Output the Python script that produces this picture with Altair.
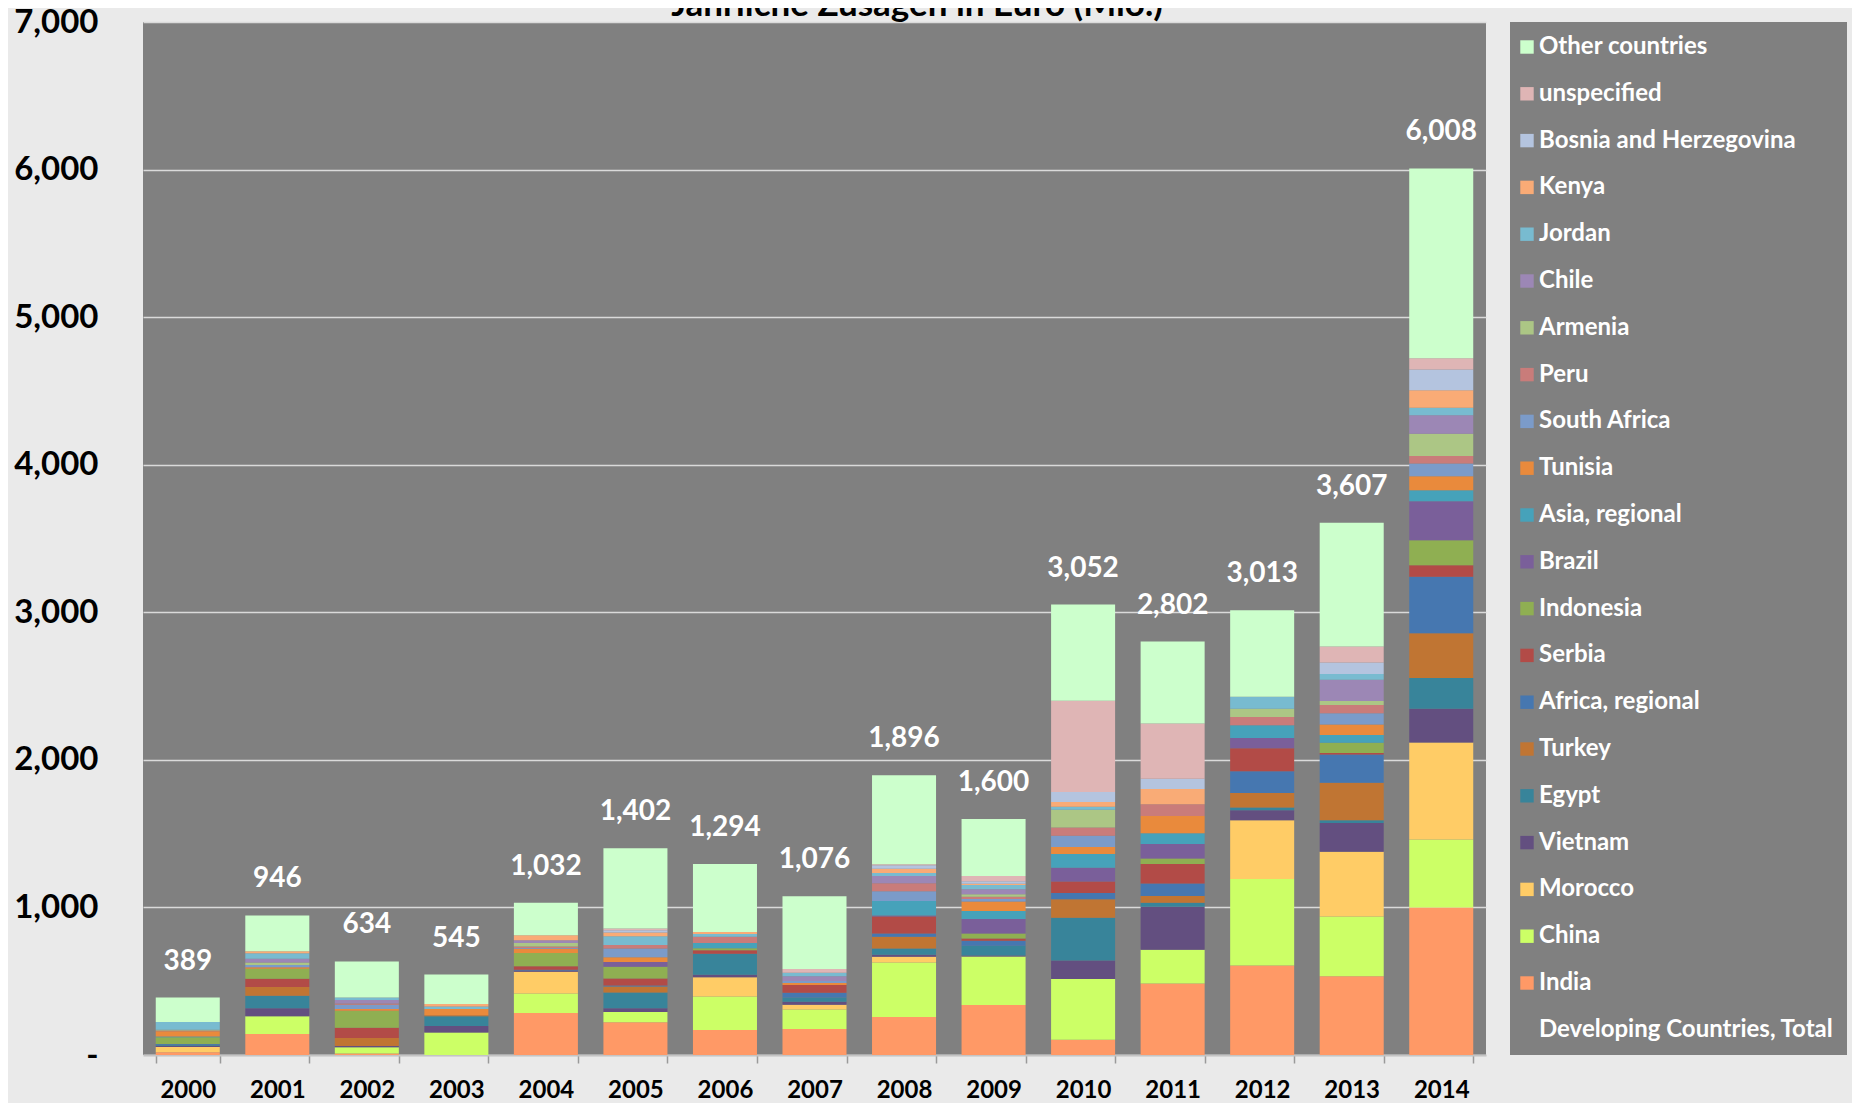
import altair as alt
import pandas as pd

years = [str(y) for y in range(2000, 2015)]
totals = [389, 946, 634, 545, 1032, 1402, 1294, 1076, 1896, 1600, 3052, 2802, 3013, 3607, 6008]

india = [18, 143, 11, 0, 285, 222, 170, 176, 258, 339, 104, 485, 606, 534, 1000]
china = [0, 120, 41, 152, 132, 70, 226, 133, 369, 328, 411, 228, 587, 404, 461]
morocco = [36, 0, 0, 0, 147, 0, 131, 32, 38, 0, 0, 0, 397, 439, 657]
vietnam = [9, 54, 9, 45, 9, 25, 16, 20, 14, 7, 126, 291, 69, 195, 228]
egypt = [7, 84, 0, 66, 0, 106, 143, 29, 43, 66, 289, 27, 19, 19, 209]
turkey = [0, 59, 54, 7, 0, 41, 0, 0, 79, 0, 126, 47, 97, 254, 303]
africa_regional = [5, 0, 0, 0, 5, 7, 0, 32, 23, 34, 41, 84, 147, 192, 382]
serbia = [0, 57, 70, 0, 23, 48, 23, 52, 115, 16, 79, 133, 157, 10, 79]
indonesia = [45, 68, 115, 0, 90, 79, 14, 0, 0, 34, 0, 36, 0, 69, 169]
brazil = [0, 0, 0, 0, 0, 32, 0, 0, 7, 97, 93, 99, 69, 0, 264]
asia_regional = [5, 0, 0, 0, 0, 0, 36, 0, 97, 54, 93, 72, 86, 52, 75]
tunisia = [36, 9, 11, 41, 29, 32, 0, 14, 0, 66, 47, 117, 0, 71, 94]
south_africa = [0, 16, 29, 0, 5, 59, 0, 14, 66, 16, 77, 0, 0, 76, 87]
peru = [5, 0, 9, 0, 11, 25, 43, 0, 54, 16, 56, 81, 57, 57, 51]
armenia = [5, 16, 0, 0, 23, 0, 0, 0, 0, 16, 120, 0, 55, 26, 150]
chile = [0, 27, 23, 0, 18, 0, 0, 32, 50, 34, 0, 0, 0, 145, 126]
jordan = [52, 36, 18, 18, 0, 59, 18, 23, 20, 29, 20, 0, 81, 38, 51]
kenya = [0, 14, 0, 16, 35, 25, 14, 0, 29, 9, 32, 102, 0, 0, 118]
bosnia = [0, 0, 0, 0, 0, 16, 0, 0, 23, 16, 68, 70, 0, 78, 142]
unspecified = [0, 0, 0, 0, 0, 11, 0, 25, 7, 36, 619, 375, 0, 109, 75]
other = [166, 243, 244, 200, 220, 544, 460, 494, 604, 387, 651, 555, 586, 839, 1287]

NB = "\u00a0"
# bottom-to-top stacking order
series = [
    (NB + "India", india, "#FF9966"),
    (NB + "China", china, "#CCFF66"),
    (NB + "Morocco", morocco, "#FFCC66"),
    ("Vietnam", vietnam, "#634F80"),
    (NB + "Egypt", egypt, "#38849A"),
    ("Turkey", turkey, "#C07533"),
    ("Africa, regional", africa_regional, "#4677B0"),
    ("Serbia", serbia, "#B24B47"),
    ("Indonesia", indonesia, "#8FAF52"),
    ("Brazil", brazil, "#7A5F9A"),
    ("Asia, regional", asia_regional, "#46A2BA"),
    ("Tunisia", tunisia, "#E98A3C"),
    ("South Africa", south_africa, "#7B9BC9"),
    ("Peru", peru, "#C97C7A"),
    ("Armenia", armenia, "#ACC685"),
    ("Chile", chile, "#9C87B5"),
    ("Jordan", jordan, "#78BBD0"),
    ("Kenya", kenya, "#F9AB76"),
    ("Bosnia and Herzegovina", bosnia, "#B4C4DF"),
    ("unspecified", unspecified, "#DFB5B5"),
    ("Other countries", other, "#CCFFCC"),
]

rows = []
for idx, (name, vals, _) in enumerate(series):
    for y, v in zip(years, vals):
        if v > 0:
            rows.append({"year": y, "country": name, "value": v, "ord": idx})
df = pd.DataFrame(rows)

legend_domain = [s[0] for s in reversed(series)] + ["Developing Countries, Total"]
legend_range = [s[2] for s in reversed(series)] + ["transparent"]

FONT = "Lato"

x_enc = alt.X(
    "year:O",
    scale=alt.Scale(paddingInner=0.285, paddingOuter=0.1425),
    axis=alt.Axis(
        title=None, labelAngle=0, labelFont=FONT, labelFontSize=24,
        labelFontWeight="bold", labelColor="black", labelPadding=15,
        tickBand="extent", tickSize=8, tickColor="#9A9A9A", tickWidth=1.5,
        domainColor="#C4C4C4", domainWidth=2, grid=False,
    ),
)
y_scale = alt.Scale(domain=[0, 7000], nice=False)

bars = alt.Chart(df).mark_bar().encode(
    x=x_enc,
    y=alt.Y(
        "sum(value):Q", stack="zero", scale=y_scale,
        axis=alt.Axis(
            title=None, values=list(range(0, 7001, 1000)),
            labelExpr="datum.value == 0 ? '-' : format(datum.value, ',')",
            labelFont=FONT, labelFontSize=33, labelFontWeight="bold",
            labelColor="black", labelPadding=45, ticks=False, domain=False,
            grid=True, gridColor="#DADADA", gridWidth=1.5,
        ),
    ),
    color=alt.Color(
        "country:N",
        scale=alt.Scale(domain=legend_domain, range=legend_range),
        legend=alt.Legend(
            title=None, orient="right", offset=24, fillColor="#808080",
            padding=13, symbolType="square", symbolSize=180,
            symbolStrokeWidth=0, symbolOffset=-8, labelFont=FONT,
            labelFontSize=24, labelFontWeight="bold", labelColor="white",
            rowPadding=22.8, labelOffset=0, labelLimit=420,
        ),
    ),
    order=alt.Order("ord:Q", sort="ascending"),
)

tot_df = pd.DataFrame({"year": years, "total": totals})
labels = alt.Chart(tot_df).mark_text(
    font=FONT, fontSize=28, fontWeight="bold", color="white",
    baseline="middle", dy=-36,
).encode(
    x=alt.X("year:O"),
    y=alt.Y("total:Q", scale=y_scale),
    text=alt.Text("total:Q", format=","),
)

title_df = pd.DataFrame({"t": ["Jährliche Zusagen in Euro (Mio.)"]})
title = alt.Chart(title_df).mark_text(
    font=FONT, fontSize=35, fontWeight="bold", color="black",
    baseline="alphabetic", align="center",
).encode(
    text="t:N", x=alt.value(774), y=alt.value(-6),
)

chart = alt.layer(bars, labels, title).properties(
    width=1343, height=1033,
    autosize=alt.AutoSizeParams(type="none"),
    padding={"left": 135, "top": 14, "right": 366, "bottom": 48},
    background="#EAEAEA",
).configure_view(fill="#808080", strokeWidth=0)

chart.save("out.html", embed_options={"renderer": "svg", "actions": False})
